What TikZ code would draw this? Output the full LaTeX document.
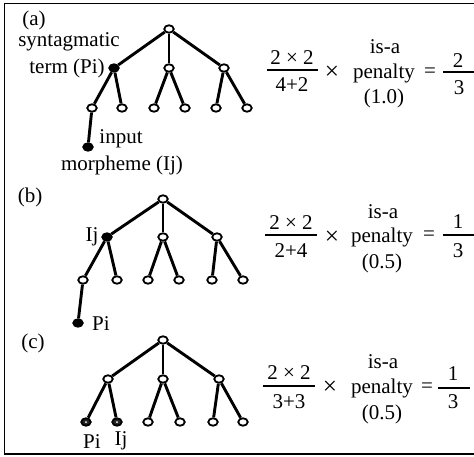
\documentclass[tikz,border=0pt]{standalone}
\usepackage{fontspec}
\setmainfont{Liberation Serif}
\usetikzlibrary{shapes.geometric}
\begin{document}
\begin{tikzpicture}[x=1pt,y=-1pt,
  tn/.style={ellipse, draw, line width=1.8pt, fill=white, minimum width=9.5pt, minimum height=7.5pt, inner sep=0pt},
  fn/.style={tn, fill=black},
  hn/.style={tn, fill=black!85},
  br/.style={line width=2.9pt},
  txt/.style={font=\fontsize{21}{23}\selectfont, inner sep=0pt},
  bar/.style={line width=1.4pt}]
\useasboundingbox (0,0) rectangle (474,456);
\draw[line width=1.8pt] (480,3.5) -- (4.5,3.5) -- (4.5,454) -- (480,454);

% ---------- (a) ----------
\node[txt] (la) at (34,20) {(a)};
\node[tn] (a0) at (169,29) {};
\node[fn] (a1) at (114,68) {};
\node[tn] (a2) at (169,68) {};
\node[tn] (a3) at (224,68) {};
\node[tn] (a11) at (92,108) {};
\node[tn] (a12) at (122,108) {};
\node[tn] (a21) at (154,108) {};
\node[tn] (a22) at (185,108) {};
\node[tn] (a31) at (216,108) {};
\node[tn] (a32) at (247,108) {};
\node[fn] (a111) at (88,147) {};
\draw[br] (a0) -- (a1); \draw[br] (a0) -- (a2); \draw[br] (a0) -- (a3);
\draw[br] (a1) -- (a11); \draw[br] (a1) -- (a12);
\draw[br] (a2) -- (a21); \draw[br] (a2) -- (a22);
\draw[br] (a3) -- (a31); \draw[br] (a3) -- (a32);
\draw[br] (a11) -- (a111);
\node[txt] (syn) at (69,42) {syntagmatic};
\node[txt] (term) at (67,68) {term (Pi)};
\node[txt] (inp) at (121,139) {input};
\node[txt] (morph) at (122,165) {morpheme (Ij)};

\node[txt] (an) at (292,58) {2 × 2};
\node[txt] (ad) at (292,85) {4+2};
\draw[bar] (267,70) -- (318,70);
\node[txt, scale=1.2] (ax) at (332,73) {×};
\node[txt] (ai) at (385,47) {is-a};
\node[txt] (ap) at (384,73) {penalty};
\node[txt] (av) at (384,98) {(1.0)};
\node[txt] (ae) at (430,73) {=};
\node[txt] (ar1) at (458,61) {2};
\node[txt] (ar2) at (459,88) {3};
\draw[bar] (443,72) -- (474,72);

% ---------- (b) ----------
\node[txt] (lb) at (30,197) {(b)};
\node[tn] (b0) at (163,199) {};
\node[fn] (b1) at (107,237) {};
\node[tn] (b2) at (163,237) {};
\node[tn] (b3) at (217,237) {};
\node[tn] (b11) at (83,280) {};
\node[tn] (b12) at (117,280) {};
\node[tn] (b21) at (148,280) {};
\node[tn] (b22) at (179,280) {};
\node[tn] (b31) at (212,280) {};
\node[tn] (b32) at (243,280) {};
\node[fn] (b111) at (78,323) {};
\draw[br] (b0) -- (b1); \draw[br] (b0) -- (b2); \draw[br] (b0) -- (b3);
\draw[br] (b1) -- (b11); \draw[br] (b1) -- (b12);
\draw[br] (b2) -- (b21); \draw[br] (b2) -- (b22);
\draw[br] (b3) -- (b31); \draw[br] (b3) -- (b32);
\draw[br] (b11) -- (b111);
\node[txt] (bij) at (92,237) {Ij};
\node[txt] (bpi) at (101,324) {Pi};

\node[txt] (bn) at (291,223) {2 × 2};
\node[txt] (bd) at (291,251) {2+4};
\draw[bar] (265,235) -- (317,235);
\node[txt, scale=1.2] (bx) at (332,238) {×};
\node[txt] (bi) at (383,212) {is-a};
\node[txt] (bp) at (382,237) {penalty};
\node[txt] (bv) at (382,263) {(0.5)};
\node[txt] (be) at (429,236) {=};
\node[txt] (br1) at (458,222) {1};
\node[txt] (br2) at (458,251) {3};
\draw[bar] (443,235) -- (474,235);

% ---------- (c) ----------
\node[txt] (lc) at (33,343) {(c)};
\node[tn] (c0) at (163,340) {};
\node[tn] (c1) at (108,379) {};
\node[tn] (c2) at (163,379) {};
\node[tn] (c3) at (219,379) {};
\node[hn] (c11) at (86,422) {};
\node[hn] (c12) at (117,422) {};
\node[tn] (c21) at (148,422) {};
\node[tn] (c22) at (180,422) {};
\node[tn] (c31) at (213,422) {};
\node[tn] (c32) at (243,422) {};
\fill[white] (c11.center) circle (1pt);
\fill[white] (c12.center) circle (1pt);
\draw[br] (c0) -- (c1); \draw[br] (c0) -- (c2); \draw[br] (c0) -- (c3);
\draw[br] (c1) -- (c11); \draw[br] (c1) -- (c12);
\draw[br] (c2) -- (c21); \draw[br] (c2) -- (c22);
\draw[br] (c3) -- (c31); \draw[br] (c3) -- (c32);
\node[txt] (cpi) at (92,442) {Pi};
\node[txt] (cij) at (121,441) {Ij};

\node[txt] (cn) at (289,373) {2 × 2};
\node[txt] (cd) at (289,402) {3+3};
\draw[bar] (263,386) -- (315,386);
\node[txt, scale=1.2] (cx) at (330,388) {×};
\node[txt] (ci) at (383,362) {is-a};
\node[txt] (cp) at (382,388) {penalty};
\node[txt] (cv) at (382,414) {(0.5)};
\node[txt] (ce) at (427,388) {=};
\node[txt] (cr1) at (453,374) {1};
\node[txt] (cr2) at (453,402) {3};
\draw[bar] (438,388) -- (470,388);
\end{tikzpicture}
\end{document}
